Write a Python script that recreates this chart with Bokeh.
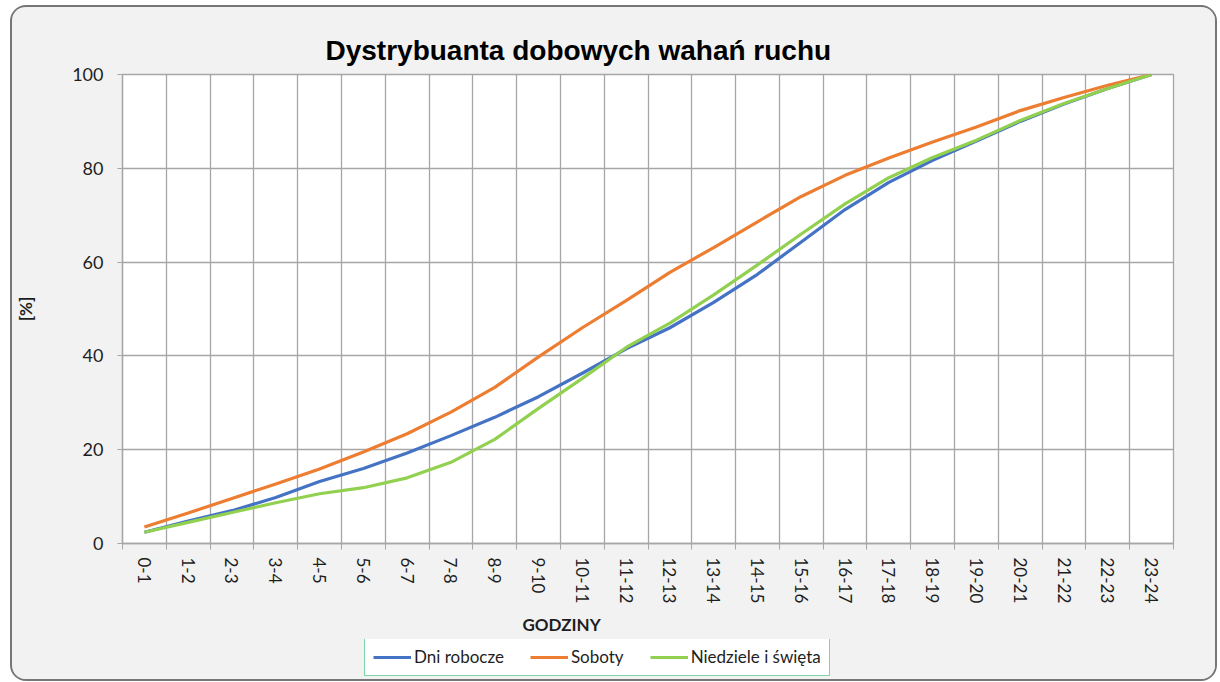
from bokeh.plotting import figure
from bokeh.layouts import column
from bokeh.models import Range1d, FixedTicker, Legend, LegendItem, Title, ColumnDataSource
from bokeh.embed import file_html
from bokeh.resources import INLINE

hours = ["0-1", "1-2", "2-3", "3-4", "4-5", "5-6", "6-7", "7-8", "8-9", "9-10", "10-11", "11-12",
         "12-13", "13-14", "14-15", "15-16", "16-17", "17-18", "18-19", "19-20", "20-21", "21-22",
         "22-23", "23-24"]
dni_robocze = [2.4, 4.8, 7.0, 9.8, 13.2, 16.0, 19.3, 23.0, 26.9, 31.3, 36.3, 41.5,
               46.0, 51.4, 57.4, 64.3, 71.2, 77.0, 81.7, 85.8, 90.0, 93.7, 97.0, 100.0]
soboty = [3.5, 6.5, 9.6, 12.7, 15.9, 19.5, 23.4, 28.0, 33.3, 39.8, 46.0, 51.8,
          57.8, 63.1, 68.6, 74.0, 78.5, 82.2, 85.6, 88.8, 92.3, 95.1, 97.7, 100.0]
niedziele = [2.4, 4.5, 6.6, 8.7, 10.6, 11.9, 14.0, 17.3, 22.2, 28.8, 35.2, 41.8,
             47.0, 53.0, 59.4, 66.0, 72.4, 78.0, 82.3, 86.0, 90.2, 93.8, 97.0, 100.0]
series_names = ["Dni robocze", "Soboty", "Niedziele i święta"]
series_colors = ["#4472c4", "#ed7d31", "#92d050"]
y_ticks = [0, 20, 40, 60, 80, 100]

xpos = [i + 0.5 for i in range(len(hours))]
src = ColumnDataSource(dict(x=xpos, hour=hours, dni=dni_robocze, sob=soboty, nie=niedziele))
cols = ["dni", "sob", "nie"]

GRID = "#a6a6a6"
TXT = "#1e1e1e"
BG = "#f2f2f2"

p = figure(width=1203, height=632, output_backend="svg", toolbar_location=None,
           x_range=Range1d(0, len(hours)), y_range=Range1d(0, 100),
           min_border_left=110, min_border_right=42, min_border_top=67, min_border_bottom=96,
           background_fill_color="white", border_fill_color=BG)
p.outline_line_color = GRID
p.outline_line_width = 1.3

p.title.text = "Dystrybuanta dobowych wahań ruchu"
p.title.text_font = "Liberation Sans"
p.title.text_font_size = "28px"
p.title.text_font_style = "bold"
p.title.text_color = "black"
p.title.align = "left"
p.title.offset = 203
p.title.standoff = 17

# x axis
xa = p.xaxis[0]
xa.ticker = FixedTicker(ticks=xpos, minor_ticks=list(range(len(hours) + 1)))
xa.major_label_overrides = {x: h for x, h in zip(xpos, hours)}
xa.major_label_orientation = "vertical"
xa.major_tick_line_color = None
xa.major_tick_out = 0
xa.major_tick_in = 0
xa.minor_tick_out = 6
xa.minor_tick_in = 0
xa.minor_tick_line_color = GRID
xa.axis_line_color = GRID
xa.axis_line_width = 1.3
xa.major_label_standoff = 8
xa.major_label_text_font = "Lato"
xa.major_label_text_font_size = "17px"
xa.major_label_text_color = TXT

p.xgrid.grid_line_color = None
p.xgrid.minor_grid_line_color = GRID
p.xgrid.minor_grid_line_width = 1.3

# y axis
ya = p.yaxis[0]
ya.ticker = FixedTicker(ticks=y_ticks)
ya.minor_tick_line_color = None
ya.major_tick_out = 5
ya.major_tick_in = 0
ya.major_tick_line_color = GRID
ya.axis_line_color = GRID
ya.axis_line_width = 1.3
ya.major_label_standoff = 14
ya.major_label_text_font = "Lato"
ya.major_label_text_font_size = "18px"
ya.major_label_text_color = TXT
ya.axis_label = "[%]"
ya.axis_label_text_font = "Lato"
ya.axis_label_text_font_style = "bold"
ya.axis_label_text_font_size = "17px"
ya.axis_label_text_color = TXT
ya.axis_label_standoff = 33

p.ygrid.grid_line_color = GRID
p.ygrid.grid_line_width = 1.3

for col, color in zip(cols, series_colors):
    p.line("x", col, source=src, line_color=color, line_width=3.2)

xlabel = Title(text="GODZINY", align="left", offset=400, standoff=10,
               text_font="Lato", text_font_style="bold", text_font_size="17px", text_color=TXT)
p.add_layout(xlabel, "below")

# legend strip (separate figure so the legend is not clipped); its lines lie outside its view
pl = figure(width=1203, height=40, output_backend="svg", toolbar_location=None,
            x_range=Range1d(0, len(hours)), y_range=Range1d(1000, 1040),
            min_border_left=110, min_border_right=42, min_border_top=0, min_border_bottom=0,
            background_fill_color=BG, border_fill_color=BG)
pl.axis.visible = False
pl.grid.visible = False
pl.outline_line_color = None
items = []
for name, col, color in zip(series_names, cols, series_colors):
    r = pl.line("x", col, source=src, line_color=color, line_width=3)
    items.append(LegendItem(label=name, renderers=[r]))
legend = Legend(items=items, orientation="horizontal", location=(242, 3), padding=8, spacing=26,
                label_standoff=3, glyph_width=38, glyph_height=20, label_height=19, margin=0,
                label_text_font="Lato", label_text_font_size="17px", label_text_color=TXT,
                border_line_color="#00b050", border_line_width=1.5,
                background_fill_color="white", background_fill_alpha=1)
pl.add_layout(legend)

layout = column(p, pl, spacing=0)
layout.styles = {"border": "2px solid #767676", "border-radius": "16px", "overflow": "hidden",
                 "margin-left": "10px", "margin-top": "5px", "background-color": BG}

open("out.html", "w").write(file_html(layout, INLINE))
